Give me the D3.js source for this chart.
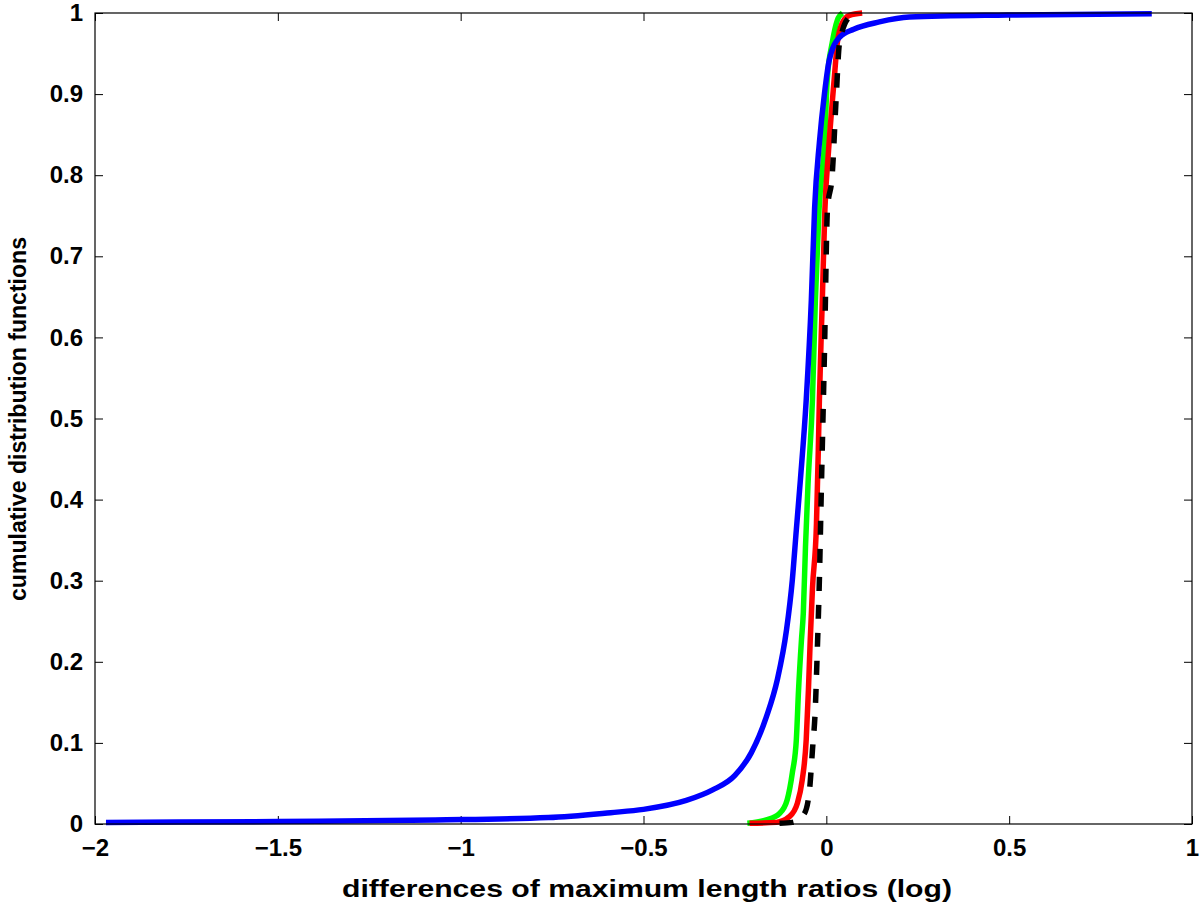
<!DOCTYPE html>
<html>
<head>
<meta charset="utf-8">
<script src="https://cdn.jsdelivr.net/npm/d3@7"></script>
<style>
  body { margin: 0; background: #fff; }
  text { font-family: "Liberation Sans", Helvetica, Arial, sans-serif; font-weight: bold; }
</style>
</head>
<body>
<script>
// cumulative distribution curves as [x, F(x)]
var blueCdf = [
  [-1.97, 0.002], [-1.5, 0.003], [-1.07, 0.005], [-0.76, 0.008], [-0.59, 0.014],
  [-0.50, 0.018], [-0.383, 0.029], [-0.311, 0.042], [-0.25, 0.060], [-0.205, 0.088],
  [-0.164, 0.132], [-0.134, 0.178], [-0.109, 0.239], [-0.093, 0.301], [-0.082, 0.363],
  [-0.071, 0.424], [-0.055, 0.523], [-0.041, 0.646], [-0.032, 0.760], [-0.019, 0.840],
  [-0.005, 0.901], [0.008, 0.942], [0.036, 0.970], [0.075, 0.980], [0.145, 0.989],
  [0.227, 0.995], [0.495, 0.9975], [0.89, 0.999]
];
var greenCdf = [
  [-0.216, 0.001], [-0.164, 0.005], [-0.128, 0.013], [-0.107, 0.030], [-0.093, 0.063],
  [-0.082, 0.104], [-0.076, 0.165], [-0.068, 0.227], [-0.063, 0.260], [-0.057, 0.342],
  [-0.050, 0.420], [-0.038, 0.523], [-0.030, 0.646], [-0.020, 0.757], [-0.005, 0.840],
  [0.003, 0.921], [0.016, 0.963], [0.030, 0.991], [0.044, 1.0]
];
var redCdf = [
  [-0.21, 0.001], [-0.137, 0.002], [-0.101, 0.009], [-0.079, 0.026], [-0.066, 0.054],
  [-0.055, 0.104], [-0.049, 0.165], [-0.044, 0.227], [-0.038, 0.290], [-0.027, 0.370],
  [-0.022, 0.460], [-0.019, 0.523], [-0.011, 0.646], [-0.004, 0.757], [0.006, 0.830],
  [0.022, 0.921], [0.030, 0.963], [0.044, 0.988], [0.063, 0.997], [0.098, 1.0]
];
var blackCdf = [
  [-0.128, 0.001], [-0.093, 0.002], [-0.060, 0.013], [-0.046, 0.042], [-0.038, 0.091],
  [-0.030, 0.144], [-0.025, 0.210], [-0.019, 0.301], [-0.014, 0.405], [-0.005, 0.584],
  [0.003, 0.757], [0.016, 0.800], [0.027, 0.896], [0.036, 0.963], [0.063, 0.995],
  [0.082, 0.999]
];

var xTicks = [-2, -1.5, -1, -0.5, 0, 0.5, 1];
var yTicks = [0, 0.1, 0.2, 0.3, 0.4, 0.5, 0.6, 0.7, 0.8, 0.9, 1];
var xLabel = "differences of maximum length ratios (log)";
var yLabel = "cumulative distribution functions";

var width = 1200, height = 905;
var margin = {top: 13, right: 8, bottom: 81, left: 95};
var plotW = width - margin.left - margin.right;
var plotH = height - margin.top - margin.bottom;

var svg = d3.select("body").append("svg")
  .attr("width", width)
  .attr("height", height);

var x = d3.scaleLinear().domain([-2, 1]).range([0, plotW]);
var y = d3.scaleLinear().domain([0, 1]).range([plotH, 0]);

var g = svg.append("g").attr("transform", "translate(" + margin.left + "," + margin.top + ")");

function fmt(d) {
  return d < 0 ? "\u2212" + Math.abs(d) : String(d);
}

// ticks inside on all four sides, MATLAB style
var tickLen = 8;
var bottomAxis = d3.axisBottom(x).tickValues(xTicks).tickSize(-tickLen).tickPadding(15).tickFormat(fmt);
var topAxis = d3.axisTop(x).tickValues(xTicks).tickSize(-tickLen).tickFormat("");
var leftAxis = d3.axisLeft(y).tickValues(yTicks).tickSize(-tickLen).tickPadding(12).tickFormat(fmt);
var rightAxis = d3.axisRight(y).tickValues(yTicks).tickSize(-tickLen).tickFormat("");

function styleAxis(sel) {
  sel.select(".domain").remove();
  sel.selectAll(".tick line").attr("stroke", "#000").attr("stroke-width", 1);
  sel.selectAll("text").attr("font-size", 24).attr("fill", "#000");
}

g.append("g").attr("transform", "translate(0," + plotH + ")").call(bottomAxis).call(styleAxis);
g.append("g").call(topAxis).call(styleAxis);
g.append("g").call(leftAxis).call(styleAxis);
g.append("g").attr("transform", "translate(" + plotW + ",0)").call(rightAxis).call(styleAxis);

var line = d3.line()
  .x(function (d) { return x(d[0]); })
  .y(function (d) { return y(d[1]); })
  .curve(d3.curveMonotoneX);

var series = [
  {data: greenCdf, color: "#00ff00", dash: null},
  {data: redCdf, color: "#ff0000", dash: null},
  {data: blueCdf, color: "#0000ff", dash: null},
  {data: blackCdf, color: "#000000", dash: "14,14"}
];

g.selectAll("path.cdf")
  .data(series)
  .enter().append("path")
  .attr("class", "cdf")
  .attr("fill", "none")
  .attr("stroke", function (d) { return d.color; })
  .attr("stroke-width", 5.5)
  .attr("stroke-dasharray", function (d) { return d.dash; })
  .attr("d", function (d) { return line(d.data); });

// frame
g.append("rect")
  .attr("width", plotW)
  .attr("height", plotH)
  .attr("fill", "none")
  .attr("stroke", "#000")
  .attr("stroke-width", 1.2);

svg.append("text")
  .attr("x", 647)
  .attr("y", 897)
  .attr("text-anchor", "middle")
  .attr("font-size", 23)
  .attr("textLength", 610)
  .attr("lengthAdjust", "spacingAndGlyphs")
  .text(xLabel);

svg.append("text")
  .attr("transform", "translate(26,419) rotate(-90)")
  .attr("text-anchor", "middle")
  .attr("font-size", 23)
  .attr("textLength", 364)
  .attr("lengthAdjust", "spacingAndGlyphs")
  .text(yLabel);
</script>
</body>
</html>
